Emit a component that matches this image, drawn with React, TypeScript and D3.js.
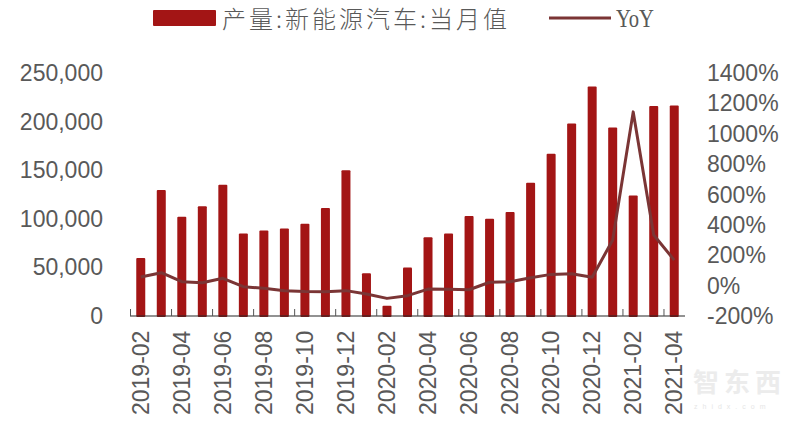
import React from "react";
import * as d3 from "d3";

const months = ["2019-02","2019-03","2019-04","2019-05","2019-06","2019-07","2019-08","2019-09","2019-10","2019-11","2019-12","2020-01","2020-02","2020-03","2020-04","2020-05","2020-06","2020-07","2020-08","2020-09","2020-10","2020-11","2020-12","2021-01","2021-02","2021-03","2021-04"];
const output = [59700,129600,102000,113000,135000,85000,88000,90000,95000,111000,150000,44000,10500,50000,81000,85000,103000,100000,107000,137000,167000,198000,236000,194000,124000,216000,216500];
const yoy = [57,85,26,19,48,-7,-18,-33,-38,-40,-33,-55,-84,-66,-23,-24,-27,22,26,52,74,78,55,300,1144,333,168];
const leftTicks = [0,50000,100000,150000,200000,250000];
const rightTicks = [-200,0,200,400,600,800,1000,1200,1400];
const tickLabels = months.filter((_, i) => i % 2 === 0);
const barLegend = "产量:新能源汽车:当月值";
const lineLegend = "YoY";

const W = 800, H = 425;
const x = d3.scaleBand<string>().domain(months).range([130.5, 684.5]);
const yL = d3.scaleLinear().domain([0, 250000]).range([316, 73]);
const yR = d3.scaleLinear().domain([-200, 1400]).range([316, 73]);
const cx = (m: string) => (x(m) as number) + x.bandwidth() / 2;
const line = d3.line<number>().x((_, i) => cx(months[i])).y(d => yR(d));
const fmt = d3.format(",");
const grey = "#595959", barC = "#a31515", lineC = "#7b3535";
const font = "'Liberation Sans', Arial, sans-serif";

export default function App() {
  return (
    <svg width={W} height={H} style={{ position: "absolute", left: 0, top: 0, background: "#fff" }}>
      <rect x={153} y={10} width={63} height={16} rx={1} fill={barC} />
      <text x={222} y={28} fontFamily="'Noto Sans CJK SC'" fontSize={24} fontWeight={300} textLength={285} fill={grey}>{barLegend}</text>
      <line x1={549} x2={611} y1={18} y2={18} stroke={lineC} strokeWidth={2.8} />
      <text x={616} y={27} fontFamily="'Liberation Serif', serif" fontSize={25} textLength={38} lengthAdjust="spacingAndGlyphs" fill={grey}>{lineLegend}</text>

      {leftTicks.map(t => (
        <text key={t} x={103} y={yL(t) + 8} textAnchor="end" fontFamily={font} fontSize={23} fill={grey}>{fmt(t)}</text>
      ))}
      {rightTicks.map(t => (
        <text key={t} x={707} y={yR(t) + 8} fontFamily={font} fontSize={23} fill={grey}>{t}%</text>
      ))}

      {months.map((m, i) => (
        <rect key={m} x={cx(m) - 4.5} y={yL(output[i])} width={9} height={317 - yL(output[i])} rx={1} fill={barC} />
      ))}

      <line x1={130} x2={685} y1={316} y2={316} stroke="#262626" strokeWidth={1.2} />
      {tickLabels.map(m => (
        <line key={m} x1={x(m) as number} x2={x(m) as number} y1={309} y2={316} stroke="#555" strokeWidth={1} />
      ))}

      <path d={line(yoy) as string} fill="none" stroke={lineC} strokeWidth={3} strokeLinejoin="round" />

      {tickLabels.map(m => (
        <text key={m} transform={`translate(${cx(m) + 8},415) rotate(-90)`} fontFamily={font} fontSize={23} fill={grey}>{m}</text>
      ))}

      <text x={693} y={392} fontFamily="'Noto Sans CJK SC'" fontSize={26} fontWeight={700} fill="#ececec" letterSpacing={5}>智东西</text>
      <text x={694} y={409} fontFamily={font} fontSize={7} fill="#e6e6e6" letterSpacing={5}>zhidx.com</text>
    </svg>
  );
}
